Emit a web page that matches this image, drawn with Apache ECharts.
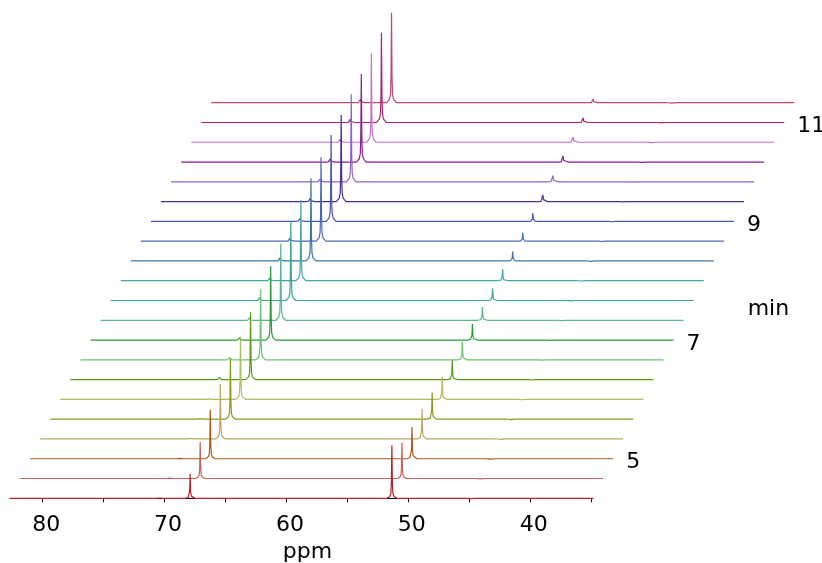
<!DOCTYPE html>
<html>
<head>
<meta charset="utf-8">
<title>Stacked 13C NMR spectra</title>
<script src="https://cdn.jsdelivr.net/npm/echarts@6/dist/echarts.min.js"></script>
<style>
  html, body { margin: 0; padding: 0; background: #fff; }
  #chart { width: 822px; height: 563px; }
</style>
</head>
<body>
<div id="chart"></div>
<script>
// Chemical-shift window shown by the ppm axis (drawn inverted, high ppm on the left)
const PPM_MAX = 82.68;
const PPM_MIN = 34.85;
const tickMarks = [80, 75, 70, 65, 60, 55, 50, 45, 40, 35];
const tickLabels = [80, 70, 60, 50, 40];

// One trace per acquisition, bottom (earliest) to top (latest)
const traceColors = [
  '#b8202a', '#c8605a', '#a85a1a', '#b8a860', '#8a9a20', '#a8c060', '#5c9a18',
  '#70c070', '#2a9a3a', '#58b888', '#38a890', '#40a8a8', '#3a78a8', '#4a68b8',
  '#4858b0', '#4030a0', '#9060c8', '#8a1a9a', '#c870c8', '#b02070', '#c04870'
];

// Growing product resonance
const productPpm = 67.9;
const productHeights = [24.3, 36.6, 49, 55, 61, 62.6, 67.6, 70.7, 74, 76.7, 79,
  81, 82.8, 84, 86.5, 86.7, 87.6, 88, 89, 89.8, 90];

// Decaying starting-material resonance
const reactantPpm = 51.35;
const reactantHeights = [53, 35.7, 31.7, 30.3, 26.7, 22.7, 19.3, 18, 16, 13.3,
  12.3, 11.6, 9.4, 8.6, 8.3, 6.7, 6.3, 6, 5.3, 4.7, 3.7];

// Weak side resonance next to the product peak
const sidePpm = 70.45;
const sideHeights = [1, 1, 1.3, 2, 2, 2, 2.3, 2.5, 2.5, 2.7, 2.8, 3, 3, 3, 3,
  3, 3, 3.2, 3.2, 3.3, 3.5];

// Small baseline artefact present in every trace
const artefactPpm = 44.95;
const artefactDepth = -1.2;

// Time annotations (minutes) placed at the right-hand end of selected traces
const timeLabelTraces = [2, 8, 14, 19];
const timeLabelTexts = ['5', '7', '9', '11'];
const unitLabel = 'min';

// Line shape: [ppm offset from centre, fraction of peak height]
const peakProfile = [[0.4, 0], [0.16, 0.04], [0.08, 0.1], [0.04, 0.3], [0, 1],
  [-0.04, 0.3], [-0.08, 0.1], [-0.16, 0.04], [-0.4, 0]];

// Waterfall offsets between consecutive traces
const TRACE_STEP = 19.78;        // vertical, in intensity units
const TRACE_SHIFT_PPM = 0.826;   // horizontal skew, in ppm

// Plot geometry: the visible ppm axis spans the first grid; the skewed
// traces need a wider grid with the same ppm-per-pixel scale.
const AXIS_LEFT = 10;
const AXIS_RIGHT = 229;
const PLOT_RIGHT = 26;
const CHART_W = 822;
const pxPerPpm = (CHART_W - AXIS_LEFT - AXIS_RIGHT) / (PPM_MAX - PPM_MIN);
const TRACE_PPM_MIN = PPM_MAX - (CHART_W - AXIS_LEFT - PLOT_RIGHT) / pxPerPpm;

function buildTrace(k) {
  const shift = k * TRACE_SHIFT_PPM;
  const base = k * TRACE_STEP;
  const peaks = [
    [sidePpm, sideHeights[k]],
    [productPpm, productHeights[k]],
    [reactantPpm, reactantHeights[k]],
    [artefactPpm, artefactDepth]
  ];
  const pts = [[PPM_MAX - shift, base]];
  peaks.forEach(([c, h]) => {
    peakProfile.forEach(([d, f]) => {
      pts.push([c + d - shift, base + h * f]);
    });
  });
  pts.push([PPM_MIN - shift, base]);
  return pts;
}

const series = [];
for (let k = traceColors.length - 1; k >= 0; k--) {
  series.push({
    type: 'line',
    xAxisIndex: 1,
    yAxisIndex: 1,
    data: buildTrace(k),
    showSymbol: false,
    symbol: 'none',
    silent: true,
    lineStyle: { color: traceColors[k], width: 1.2 },
    z: 2
  });
}

const FONT = 'DejaVu Sans, sans-serif';
const Y_MIN = -4.7, Y_MAX = 486.3;

const chart = echarts.init(document.getElementById('chart'), null, { renderer: 'canvas' });

chart.setOption({
  animation: false,
  backgroundColor: '#ffffff',
  grid: [
    { left: AXIS_LEFT, right: AXIS_RIGHT, top: 12, bottom: 60, outerBoundsMode: 'none' },
    { left: AXIS_LEFT, right: PLOT_RIGHT, top: 12, bottom: 60, outerBoundsMode: 'none' }
  ],
  xAxis: [
    {
      gridIndex: 0,
      type: 'value',
      inverse: true,
      min: PPM_MIN,
      max: PPM_MAX,
      name: 'ppm',
      nameLocation: 'middle',
      nameGap: 34,
      nameTextStyle: { fontSize: 22, color: '#000', fontFamily: FONT, padding: [0, 0, 0, 12] },
      axisLine: { lineStyle: { color: '#000', width: 1 } },
      axisTick: { show: true, length: 4, customValues: tickMarks, lineStyle: { color: '#000' } },
      axisLabel: { customValues: tickLabels, fontSize: 22, color: '#000', fontFamily: FONT,
                   margin: 11, padding: [0, 0, 0, 7] },
      splitLine: { show: false }
    },
    {
      gridIndex: 1,
      type: 'value',
      inverse: true,
      show: false,
      min: TRACE_PPM_MIN,
      max: PPM_MAX
    }
  ],
  yAxis: [
    { gridIndex: 0, type: 'value', show: false, min: Y_MIN, max: Y_MAX },
    { gridIndex: 1, type: 'value', show: false, min: Y_MIN, max: Y_MAX }
  ],
  series: series
});

// Time annotations anchored to the end of their traces
const texts = timeLabelTraces.map((k, i) => {
  const p = chart.convertToPixel({ gridIndex: 1 }, [PPM_MIN - k * TRACE_SHIFT_PPM, k * TRACE_STEP]);
  return {
    type: 'text',
    x: p[0] + 13,
    y: p[1] + 4,
    style: { text: timeLabelTexts[i], fontSize: 22, fontFamily: FONT, fill: '#000',
             align: 'left', verticalAlign: 'middle' }
  };
});
const u = chart.convertToPixel({ gridIndex: 1 }, [PPM_MIN - 10 * TRACE_SHIFT_PPM, 10 * TRACE_STEP]);
texts.push({
  type: 'text',
  x: u[0] + 54,
  y: u[1] + 9,
  style: { text: unitLabel, fontSize: 22, fontFamily: FONT, fill: '#000',
           align: 'left', verticalAlign: 'middle' }
});
chart.setOption({ graphic: texts });
</script>
</body>
</html>
